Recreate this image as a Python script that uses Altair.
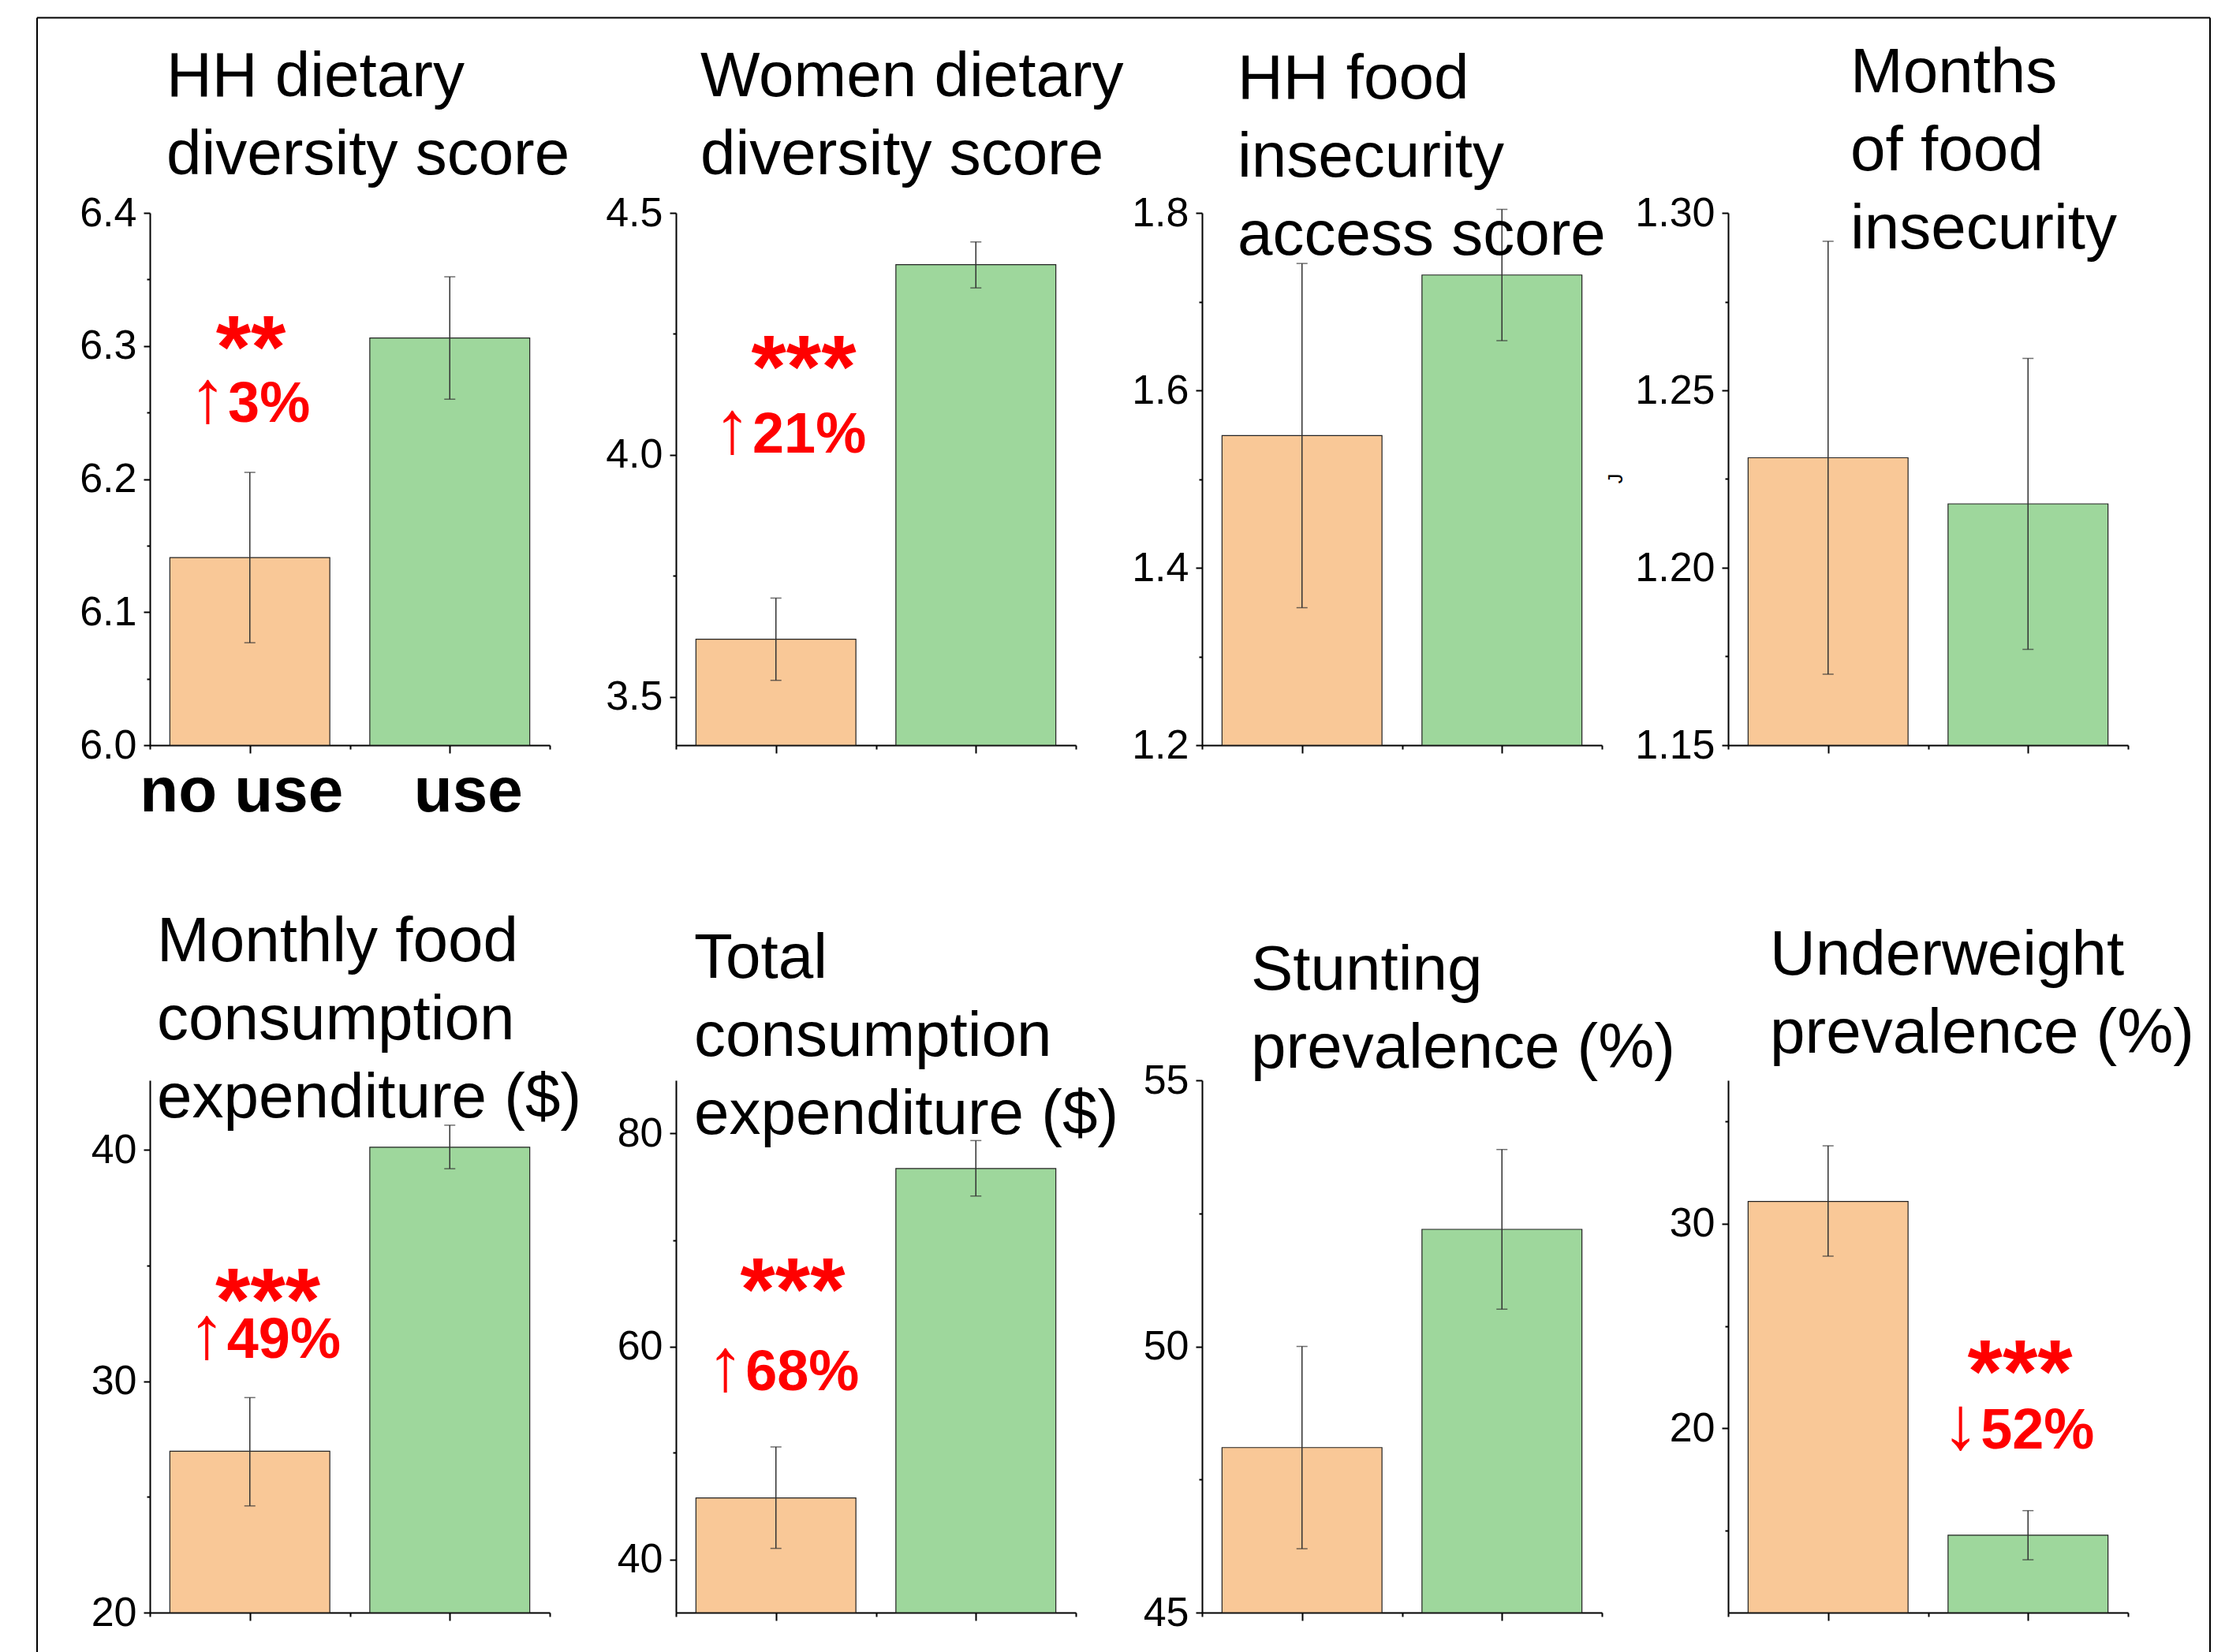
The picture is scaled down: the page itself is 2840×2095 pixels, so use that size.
import json
import altair as alt
import pandas as pd

FONT = "Liberation Sans"

# ---------------- data ----------------
titles = [
    "HH dietary\ndiversity score",
    "Women dietary\ndiversity score",
    "HH food\ninsecurity\naccess score",
    "Months\nof food\ninsecurity",
    "Monthly food\nconsumption\nexpenditure ($)",
    "Total\nconsumption\nexpenditure ($)",
    "Stunting\nprevalence (%)",
    "Underweight\nprevalence (%)",
]
groups = ["no use", "use"]
group_pos = [1.0, 2.0]

no_use_mean = [6.141, 3.619, 1.549, 1.231, 26.97, 45.77, 48.10, 31.08]
no_use_low = [6.077, 3.534, 1.355, 1.170, 24.61, 41.03, 46.20, 28.41]
no_use_high = [6.205, 3.704, 1.743, 1.292, 29.29, 50.56, 50.00, 33.80]
use_mean = [6.306, 4.393, 1.730, 1.218, 40.11, 76.71, 52.20, 14.78]
use_low = [6.260, 4.345, 1.656, 1.177, 39.18, 74.13, 50.70, 13.58]
use_high = [6.352, 4.440, 1.804, 1.259, 41.06, 79.34, 53.70, 15.98]

y_domains = [[6.0, 6.4], [3.4, 4.5], [1.2, 1.8], [1.15, 1.30],
             [20, 43], [35, 85], [45, 55], [11, 37]]
major_ticks = [[6.0, 6.1, 6.2, 6.3, 6.4], [3.5, 4.0, 4.5], [1.2, 1.4, 1.6, 1.8],
               [1.15, 1.20, 1.25, 1.30], [20, 30, 40], [40, 60, 80], [45, 50, 55], [20, 30]]
minor_ticks = [[6.05, 6.15, 6.25, 6.35], [3.75, 4.25], [1.3, 1.5, 1.7],
               [1.175, 1.225, 1.275], [25, 35], [50, 70], [47.5, 52.5], [15, 25, 35]]
tick_formats = [".1f", ".1f", ".1f", ".2f", "d", "d", "d", "d"]

stars = ["**", "***", "", "", "***", "***", "", "***"]
star_x = [1.005, 1.139, None, None, 1.09, 1.084, None, 1.96]
star_y = [6.276, 4.118, None, None, 32.2, 62.5, None, 21.3]
changes = ["↑3%", "↑21%", "", "", "↑49%", "↑68%", "", "↓52%"]
change_x = [0.883, 0.875, None, None, 0.878, 0.84, None, 1.755]
change_y = [6.243, 4.005, None, None, 31.02, 55.9, None, 19.03]

x_tick_values = [0.5, 1.0, 1.5, 2.0, 2.5]

# ---------------- style ----------------
ORANGE = "#F9C897"
GREEN = "#9ED79C"
RED = "#FF0000"
ERR = "#333333"
W, H = 507, 675
title_dx = [21, 31, 45, 155, 9, 23, 62, 53]
title_dy = [-148, -148, -145, -153, -151, -130, -115, -134]


def make_panel(i):
    d0, d1 = y_domains[i]
    minors_js = json.dumps(minor_ticks[i])
    df = pd.DataFrame({
        "group": groups,
        "pos": group_pos,
        "mean": [no_use_mean[i], use_mean[i]],
        "low": [no_use_low[i], use_low[i]],
        "high": [no_use_high[i], use_high[i]],
    })
    df["left"] = df["pos"] - 0.4
    df["right"] = df["pos"] + 0.4
    df["base"] = d0

    xscale = alt.Scale(domain=[0.5, 2.5], nice=False, zero=False)
    yscale = alt.Scale(domain=[d0, d1], nice=False, zero=False)

    yaxis = alt.Axis(
        values=sorted(major_ticks[i] + minor_ticks[i]),
        format=tick_formats[i],
        labelExpr=f"indexof({minors_js}, datum.value) >= 0 ? '' : datum.label",
        tickSize={"condition": {"test": f"indexof({minors_js}, datum.value) >= 0", "value": 4}, "value": 8},
        grid=False, title=None,
        labelFont=FONT, labelFontSize=52, labelColor="black", labelPadding=9,
        labelOverlap=False, labelFlush=False,
        domainColor="black", domainWidth=2, tickColor="black", tickWidth=2,
    )
    xaxis_kw = dict(
        values=x_tick_values,
        tickSize={"condition": {"test": "datum.value == 1 || datum.value == 2", "value": 10}, "value": 5},
        grid=False, title=None,
        domainColor="black", domainWidth=2, tickColor="black", tickWidth=2,
        labelFlush=False, labelOverlap=False,
    )
    if i == 0:
        xaxis = alt.Axis(
            labels=True,
            labelExpr="datum.value == 1 ? 'no use' : datum.value == 2 ? 'use' : ''",
            labelFont=FONT, labelFontSize=80, labelFontWeight="bold", labelColor="black",
            labelPadding=10, labelLimit=0,
            labelOffset={"condition": {"test": "datum.value == 1", "value": -11}, "value": 23},
            **xaxis_kw,
        )
    else:
        xaxis = alt.Axis(labels=False, **xaxis_kw)

    def X(f):
        return alt.X(f, type="quantitative", scale=xscale, axis=xaxis)

    def Y(f):
        return alt.Y(f, type="quantitative", scale=yscale, axis=yaxis)

    base = alt.Chart(df)
    bars = base.mark_rect(stroke="#222222", strokeWidth=1.2).encode(
        x=X("left"), x2="right", y=Y("mean"), y2="base",
        color=alt.Color("group:N", scale=alt.Scale(domain=groups, range=[ORANGE, GREEN]), legend=None),
    )
    err = base.mark_rule(color=ERR, strokeWidth=1.5).encode(x=X("pos"), y=Y("low"), y2="high")
    cap_lo = base.mark_tick(color=ERR, orient="horizontal", size=14, thickness=1.5).encode(x=X("pos"), y=Y("low"))
    cap_hi = base.mark_tick(color=ERR, orient="horizontal", size=14, thickness=1.5).encode(x=X("pos"), y=Y("high"))

    layers = [bars, err, cap_lo, cap_hi]

    if stars[i]:
        sdf = pd.DataFrame({"x": [star_x[i]], "y": [star_y[i]], "t": [stars[i]]})
        layers.append(alt.Chart(sdf).mark_text(
            font=FONT, fontSize=114, fontWeight="bold", color=RED, align="center", baseline="alphabetic"
        ).encode(x=X("x"), y=Y("y"), text="t:N"))
        cdf = pd.DataFrame({
            "x": [change_x[i]], "y": [change_y[i]],
            "arrow": [changes[i][0]], "pct": [changes[i][1:]],
        })
        layers.append(alt.Chart(cdf).mark_text(
            font=FONT, fontSize=95, fontWeight="normal", color=RED, align="right", baseline="alphabetic"
        ).encode(x=X("x"), y=Y("y"), text="arrow:N"))
        layers.append(alt.Chart(cdf).mark_text(
            font=FONT, fontSize=72, fontWeight="bold", color=RED, align="left", baseline="alphabetic", dx=2
        ).encode(x=X("x"), y=Y("y"), text="pct:N"))

    tdf = pd.DataFrame({"t": [titles[i]]})
    layers.append(alt.Chart(tdf).mark_text(
        font=FONT, fontSize=80, color="black", align="left", baseline="alphabetic",
        lineBreak="\n", lineHeight=99,
    ).encode(x=alt.value(title_dx[i]), y=alt.value(title_dy[i]), text="t:N"))

    one = pd.DataFrame({"k": [0]})
    if i == 0:
        # outer figure frame
        fl, ft, fr, fb = -143, -247.5, 2612, 1830
        layers.append(alt.Chart(one).mark_rule(color="black", strokeWidth=2).encode(
            x=alt.value(fl), y=alt.value(ft), y2=alt.value(fb)))
        layers.append(alt.Chart(one).mark_rule(color="black", strokeWidth=2).encode(
            x=alt.value(fl), x2=alt.value(fr), y=alt.value(ft)))
        layers.append(alt.Chart(one).mark_rule(color="black", strokeWidth=2).encode(
            x=alt.value(fr), y=alt.value(ft), y2=alt.value(fb)))
    if i == 2:
        layers.append(alt.Chart(pd.DataFrame({"t": ["J"]})).mark_text(
            font=FONT, fontSize=25, color="black", angle=270, align="center", baseline="middle"
        ).encode(x=alt.value(525), y=alt.value(337), text="t:N"))

    return alt.layer(*layers).properties(width=W, height=H)


panels = [make_panel(i) for i in range(8)]

chart = alt.concat(
    *panels, columns=4, spacing={"row": 425, "column": 160}, bounds="flush"
).properties(
    padding={"left": 38, "top": 13, "right": 10, "bottom": 0}
).configure_view(stroke=None)

chart.save("out.html", embed_options={"renderer": "svg", "actions": False})
